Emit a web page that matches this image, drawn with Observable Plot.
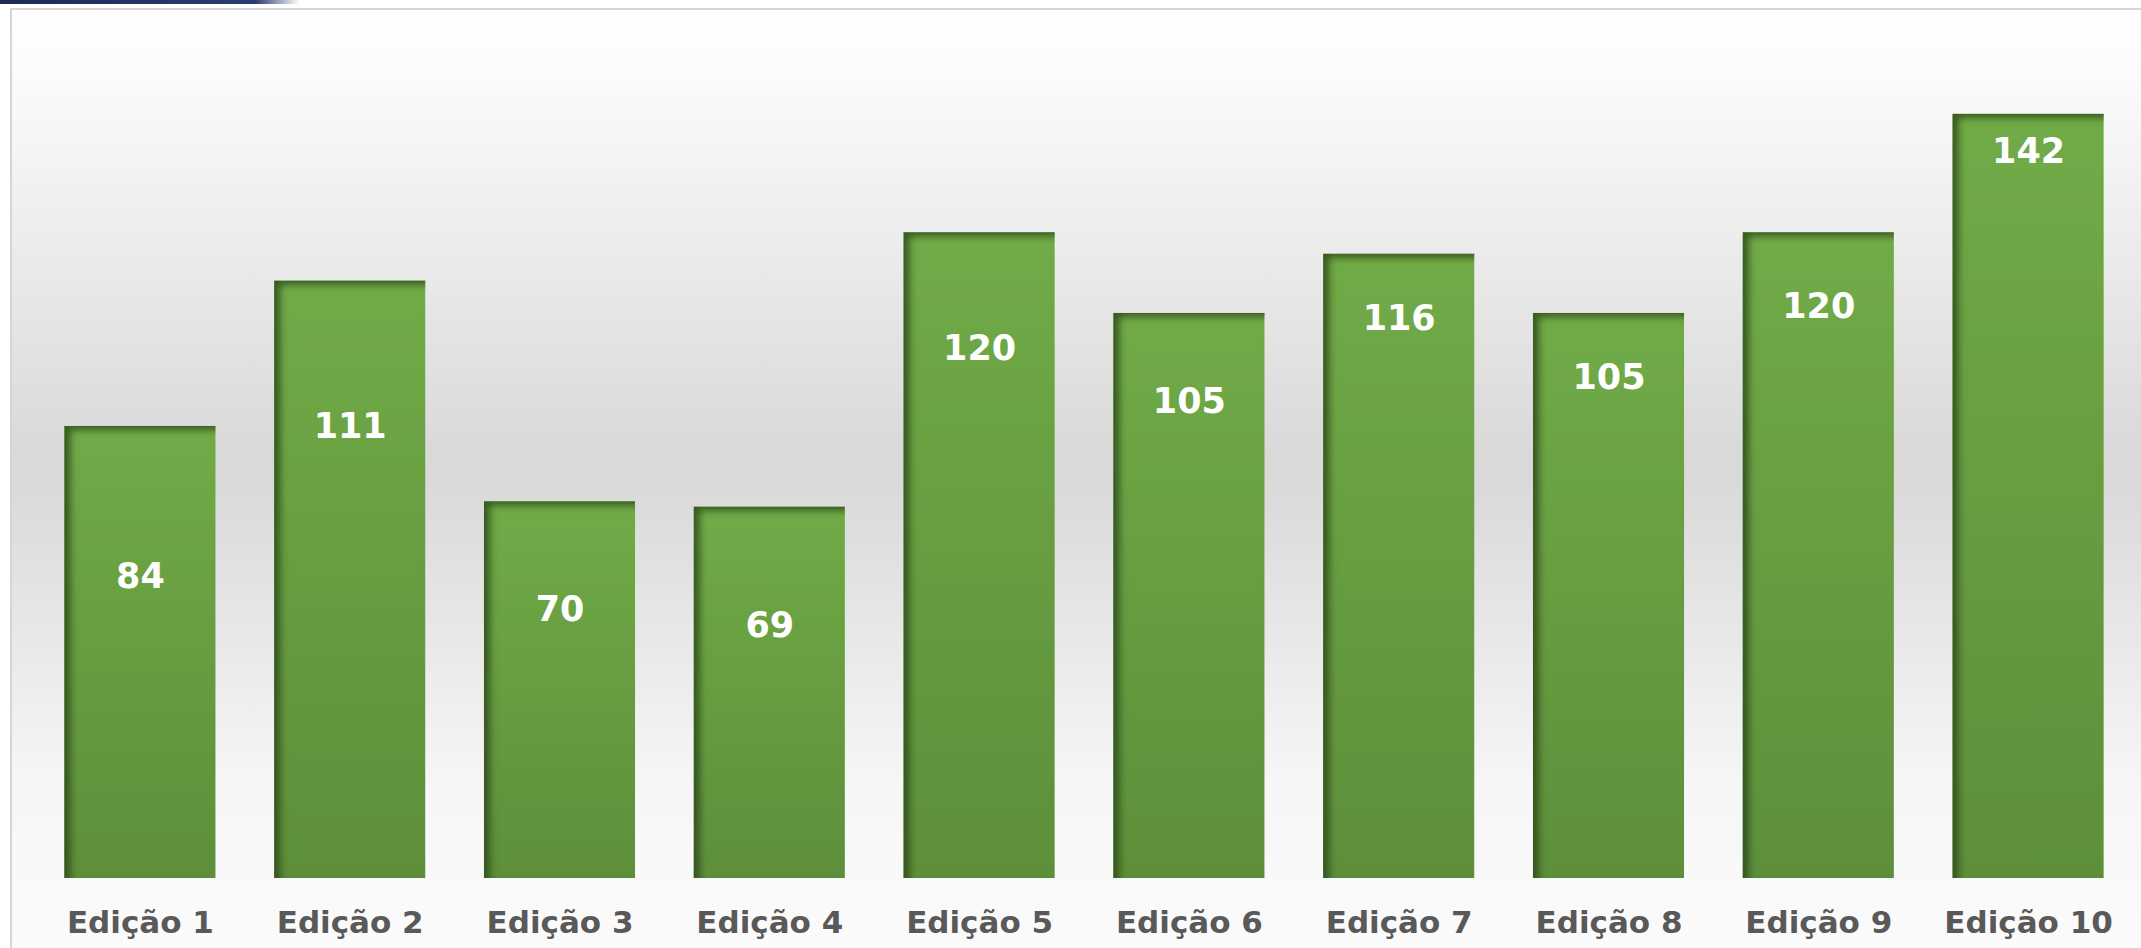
<!DOCTYPE html>
<html>
<head>
<meta charset="utf-8">
<script src="https://cdn.jsdelivr.net/npm/d3@7"></script>
<script src="https://cdn.jsdelivr.net/npm/@observablehq/plot@0.6"></script>
<style>
  html, body { margin: 0; padding: 0; background: #ffffff; width: 2141px; height: 948px; overflow: hidden; }
  #banner { position: absolute; left: 0; top: 0; width: 300px; height: 4px;
    background: linear-gradient(to right, #1c2a55 0%, #2b3c72 85%, rgba(43,60,114,0) 100%); }
  #frame { position: absolute; left: 10px; top: 8px; width: 2131px; height: 940px;
    border-left: 2px solid #d6d6d6; border-top: 2px solid #d6d6d6;
    background: linear-gradient(to bottom, #ffffff 0%, #fcfcfc 6%, #d9d9d9 47%, #dadada 51%, #f6f6f6 82%, #fbfbfb 100%); }
  #chart { position: absolute; left: 0; top: 0; }
</style>
</head>
<body>
<div id="banner"></div>
<div id="frame"></div>
<div id="chart"></div>
<script>
const categories = ["Edição 1", "Edição 2", "Edição 3", "Edição 4", "Edição 5",
                    "Edição 6", "Edição 7", "Edição 8", "Edição 9", "Edição 10"];
const values = [84, 111, 70, 69, 120, 105, 116, 105, 120, 142];
// value (in data units) at which each data label sits inside its bar
const labelAt = [56, 84, 50, 47, 98.5, 88.6, 104, 93, 106.3, 135];

const data = categories.map((c, i) => ({cat: c, v: values[i], ly: labelAt[i]}));

const svg = Plot.plot({
  width: 2141,
  height: 948,
  marginLeft: 35,
  marginRight: 8,
  marginTop: 17,
  marginBottom: 70,
  style: {background: "transparent", fontFamily: "'DejaVu Sans', Verdana, sans-serif", fontWeight: "bold"},
  x: {domain: categories, paddingInner: 0.28, paddingOuter: 0.14, round: false},
  y: {domain: [0, 160], axis: null},
  marks: [
    Plot.barY(data, {x: "cat", y: "v", fill: "url(#barGrad)"}),
    Plot.text(data, {x: "cat", y: "ly", text: d => String(d.v), fill: "white", fontSize: 35, fontWeight: "bold"}),
    Plot.axisX({tickSize: 0, tickPadding: 32, fontSize: 31, fill: "#595959", fontWeight: "bold", label: null})
  ]
});

const s = d3.select(svg);
s.insert("defs", ":first-child").html(`
  <linearGradient id="barGrad" x1="0" y1="0" x2="0" y2="1">
    <stop offset="0" stop-color="#71ab47"/>
    <stop offset="1" stop-color="#5d8f3a"/>
  </linearGradient>
  <filter id="innerShadow" x="-5%" y="-5%" width="110%" height="110%">
    <feOffset in="SourceAlpha" dx="7" dy="5"/>
    <feGaussianBlur stdDeviation="3.5" result="ob"/>
    <feComposite operator="out" in="SourceAlpha" in2="ob" result="inverse"/>
    <feFlood flood-color="#2f4d1b" flood-opacity="0.9" result="color"/>
    <feComposite operator="in" in="color" in2="inverse" result="shadow"/>
    <feComposite operator="over" in="shadow" in2="SourceGraphic"/>
  </filter>
`);
s.select('g[aria-label="bar"]').attr("filter", "url(#innerShadow)");

document.getElementById("chart").appendChild(svg);
</script>
</body>
</html>
